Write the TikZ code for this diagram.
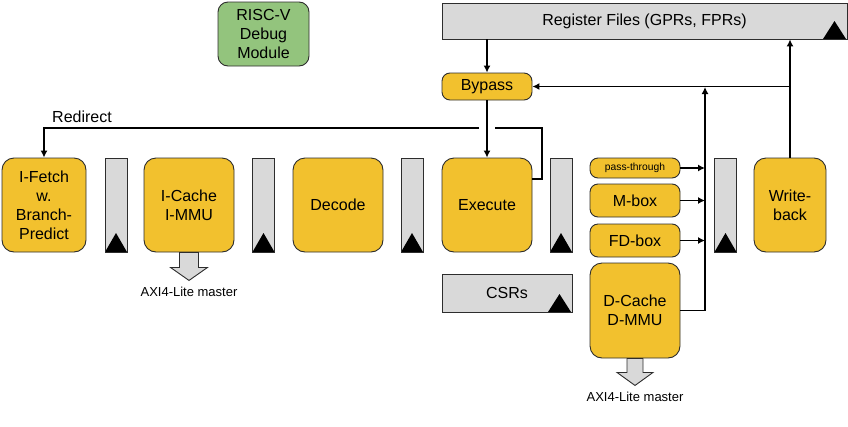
\documentclass[tikz,border=0pt]{standalone}
\usepackage{fontspec}
\setmainfont{Liberation Sans}
\usetikzlibrary{arrows.meta}
\definecolor{stagefill}{RGB}{242,193,46}
\definecolor{dbgfill}{RGB}{147,196,125}
\definecolor{regfill}{RGB}{217,217,217}
\definecolor{linegray}{RGB}{45,45,45}

\begin{document}
\begin{tikzpicture}[x=1pt, y=-1pt, >={Latex[length=7pt,width=7pt]},
	stage/.style={draw=linegray, line width=0.9pt, fill=stagefill, rounded corners=12pt, minimum width=90pt, minimum height=94pt, inner sep=2pt, align=center, font=\fontsize{16}{19}\selectfont},
	unit/.style={stage, rounded corners=8pt, minimum height=33pt},
	latch/.style={draw=linegray, line width=0.9pt, fill=regfill, minimum width=22pt, minimum height=94pt, inner sep=0pt, path picture={\fill[black] (path picture bounding box.south west) -- (path picture bounding box.south east) -- ([yshift=19pt]path picture bounding box.south) -- cycle;}},
	regblock/.style={draw=linegray, line width=0.9pt, fill=regfill, inner sep=0pt, font=\fontsize{16}{19}\selectfont, path picture={\fill[black] ([xshift=-24pt]path picture bounding box.south east) -- ([xshift=-1pt]path picture bounding box.south east) -- ([xshift=-12.5pt,yshift=18pt]path picture bounding box.south east) -- cycle;}},
	conn/.style={line width=1.3pt, draw=black},
	master/.style={draw=linegray, line width=0.9pt, fill=regfill},
	note/.style={font=\fontsize{13}{15}\selectfont}]
	\useasboundingbox (0,0) rectangle (848,426);

	% debug module and register files
	\node[stage, fill=dbgfill, minimum width=91pt, minimum height=64pt, rounded corners=10pt] (debug) at (263.5,34) {RISC-V\\Debug\\Module};
	\node[regblock, minimum width=405pt, minimum height=36pt] (regs) at (644.5,21) {Register Files (GPRs, FPRs)};
	\node[unit, minimum height=27pt] (bypass) at (487,86.5) {Bypass};

	% pipeline
	\node[stage, minimum width=84pt] (ifetch) at (44,205) {I-Fetch\\w.\\Branch-\\Predict};
	\node[latch] (latchA) at (116,205) {};
	\node[stage] (icache) at (189,205) {I-Cache\\I-MMU};
	\node[latch] (latchB) at (263.5,205) {};
	\node[stage] (decode) at (338,205) {Decode};
	\node[latch] (latchC) at (412,205) {};
	\node[stage] (exec) at (487,205) {Execute};
	\node[latch] (latchD) at (561,205) {};
	\node[unit, minimum height=20pt, font=\fontsize{10.3}{12}\selectfont] (pass) at (635,168) {pass-through};
	\node[unit] (mbox) at (635,200.5) {M-box};
	\node[unit] (fdbox) at (635,240.5) {FD-box};
	\node[stage, minimum height=95pt] (dcache) at (635,310.5) {D-Cache\\D-MMU};
	\node[latch] (latchE) at (725.5,205) {};
	\node[stage, minimum width=72pt] (wb) at (790,205) {Write-\\back};
	\node[regblock, minimum width=130pt, minimum height=38pt] (csrs) at (507,293) {CSRs};

	% bus masters
	\draw[master] ([xshift=-9.5pt]icache.south) -- ++(0,15) -- ++(-9,0) -- ++(18.5,13) -- ++(18.5,-13) -- ++(-9,0) -- ++(0,-15) -- cycle;
	\draw[master] ([xshift=-8pt]dcache.south) -- ++(0,14) -- ++(-10,0) -- ++(18,13) -- ++(18,-13) -- ++(-10,0) -- ++(0,-14) -- cycle;
	\node[note] (imaster) at (189,292) {AXI4-Lite master};
	\node[note] (dmaster) at (635,397) {AXI4-Lite master};

	% connectors
	\draw[conn,->] (regs.south -| bypass) -- (bypass);
	\draw[conn,->] (bypass) -- (exec);
	\coordinate (redir) at (542,128);
	\draw[conn] ([yshift=26pt]exec.east) -| (redir) -- ([xshift=8pt]redir -| bypass);
	\draw[conn,->] ([xshift=-8pt]redir -| bypass) -| (ifetch);
	\node[anchor=base west, font=\fontsize{16}{19}\selectfont, inner sep=0pt] (redirlbl) at (52,122) {Redirect};
	\draw[conn,->] (wb) -- (wb |- regs.south);
	\draw[conn,->] (wb.north |- bypass) -- (bypass);
	\coordinate (bus) at (705,87);
	\draw[conn,->] (dcache) -| (bus);
	\foreach \u in {pass,mbox,fdbox}
		\draw[conn,->] (\u) -- (\u -| bus);
\end{tikzpicture}
\end{document}
